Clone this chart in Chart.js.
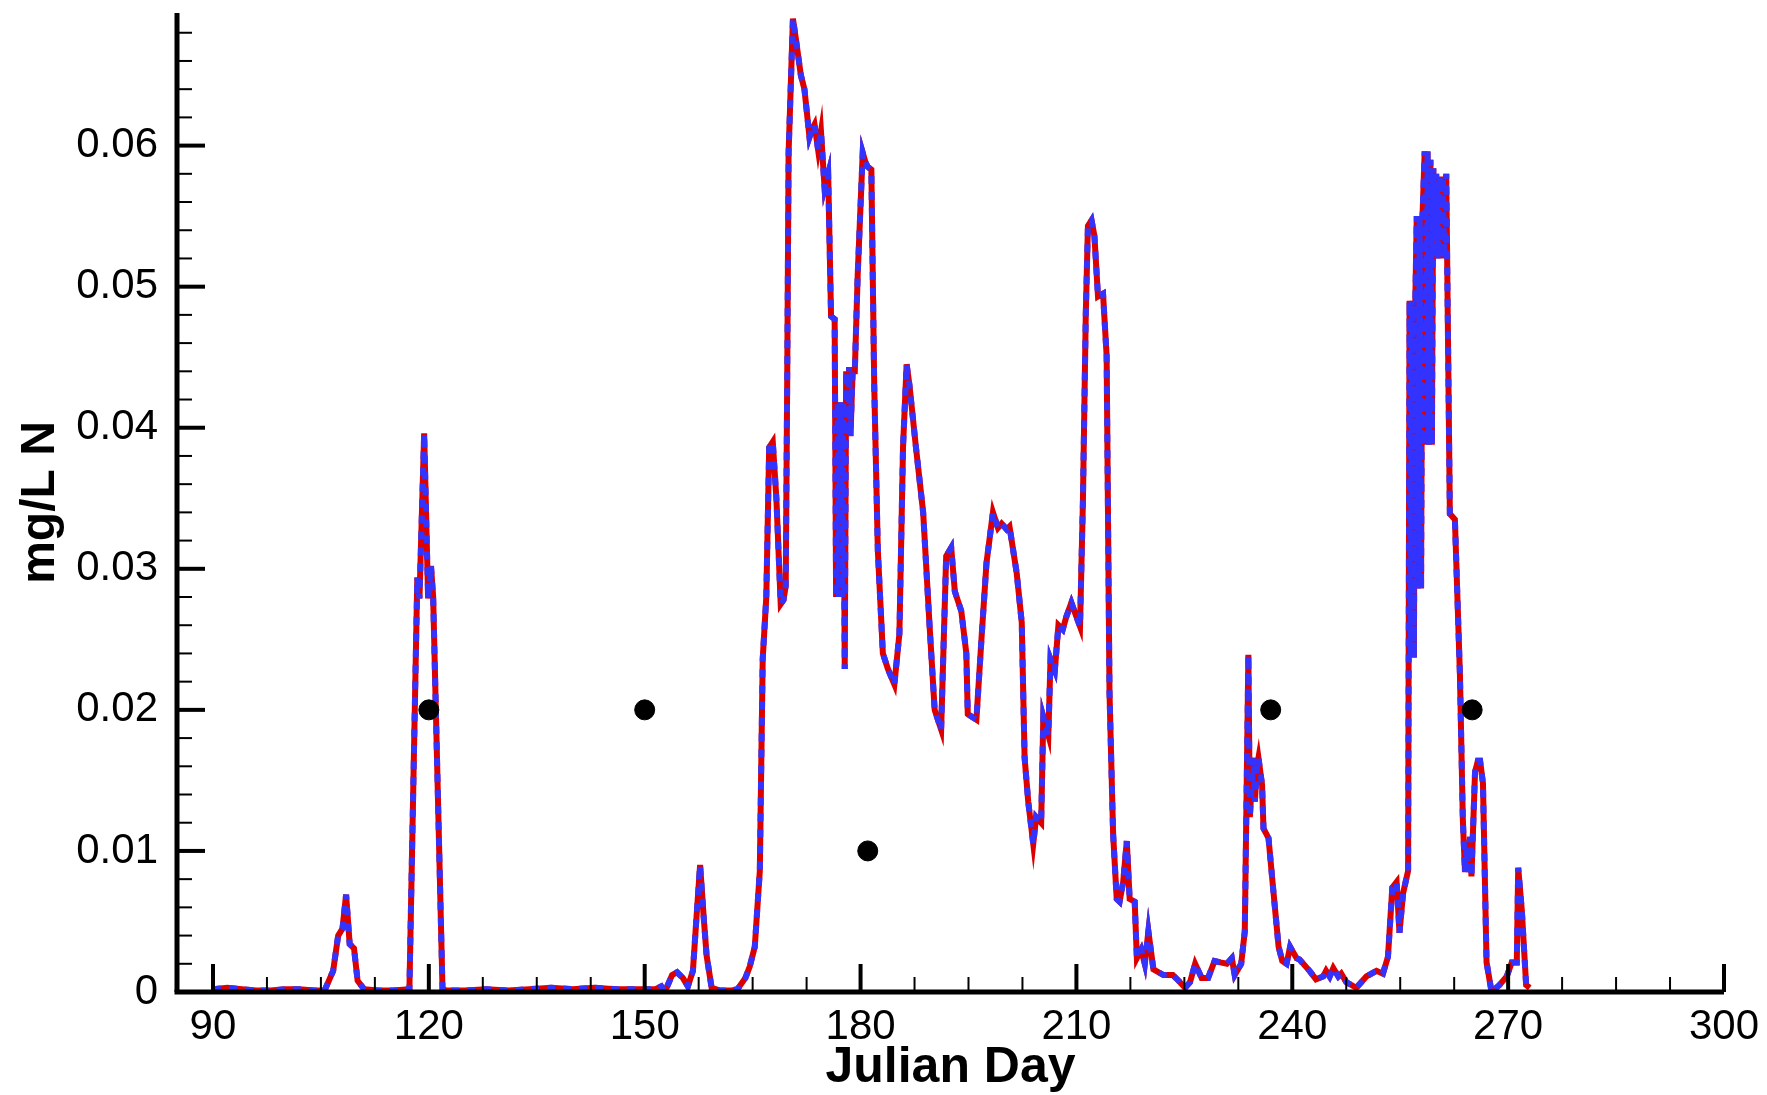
<!DOCTYPE html>
<html>
<head>
<meta charset="utf-8">
<title>mg/L N vs Julian Day</title>
<script src="https://cdn.jsdelivr.net/npm/chart.js@4.4.1/dist/chart.umd.min.js"></script>
<style>
  html, body { margin: 0; padding: 0; background: #fff; }
  canvas { display: block; }
</style>
</head>
<body>
<canvas id="chart" width="1767" height="1095"></canvas>
<script>
// Simulated series (same values drawn twice: red solid + blue dashed)
const days = [
  90, 92, 94, 96, 98, 100, 102, 104, 105.5, 106.7, 107.4, 108, 108.5, 109, 109.6, 110.1, 111, 113, 115,
  117.3, 118.4, 118.7, 119.35, 119.9, 120.3, 120.6, 121.9,
  122.5, 125, 128, 131, 134, 137, 140, 143, 146, 149, 151.5, 152.3, 152.8, 153.8, 154.5, 155.3, 156,
  156.7, 157.2, 157.7, 158.2, 158.6, 159.3, 160.5, 162, 162.9, 164, 164.6, 165.3, 166, 166.4, 166.9,
  167.3, 167.8, 168.3, 168.9, 169.3, 169.6, 169.8, 170, 170.6, 171, 171.7, 172.2, 172.9, 173.3, 173.6,
  174.1, 174.5, 175, 175.5, 175.9, 176.4, 176.6, 176.8, 177, 177.2, 177.4, 177.6, 177.8, 178, 178.2,
  178.4, 178.6, 178.9, 179.2, 179.6, 180.3, 180.7, 181, 181.5, 181.9, 182.4, 183.1, 183.8, 184.7, 185.4,
  185.9, 186.4, 186.8, 187.7, 188.7, 189.6, 190.3, 191.2, 191.9, 192.6, 193.1, 194, 194.7, 194.9, 196.1,
  196.8, 197.5, 198.4, 199.1, 199.6, 200.3, 200.7, 201.7, 202.4, 202.8, 203.3, 204, 204.4, 205.1, 205.4,
  206.1, 206.4, 207, 207.5, 208.1, 208.6, 209.3, 210, 210.5, 210.9, 211.3, 211.6, 212.1, 212.5, 213,
  213.7, 214.2, 214.6, 215.1, 215.6, 216, 216.5, 217, 217.4, 218.1, 218.4, 219, 219.5, 220, 220.7,
  222.1, 223.4, 224.2, 225.1, 225.8, 226.5, 227.4, 228.3, 229.2, 230, 230.9, 231.6, 232, 232.9, 233.4,
  233.9, 234.1, 234.4, 234.6, 234.8, 235.1, 235.3, 235.8, 236, 236.7, 237.4, 238.1, 238.6, 239.2, 239.7,
  240.6, 241, 242.4, 243.3, 244.3, 244.7, 245.2, 245.7, 246.4, 246.8, 247.5, 248.9, 250.3, 251.7, 252.6,
  253.3, 253.9, 254.5, 254.9, 255.4, 256.1, 256.3, 256.5, 256.7, 256.9, 257.1, 257.3, 257.5, 257.7,
  257.9, 258.1, 258.4, 258.6, 258.8, 259, 259.2, 259.4, 259.6, 259.8, 260, 260.2, 260.5, 260.7, 260.9,
  261.1, 261.4, 261.9, 262.6, 263.3, 263.7, 264, 264.2, 264.5, 264.7, 264.9, 265.4, 265.8, 266.1, 266.5,
  267, 267.7, 268.8, 269.8, 270.5, 271.2, 271.4, 271.9, 272.5, 273
];
const nitrogen = [
  0.0002, 0.0003, 0.0002, 0.0001, 0.0001, 0.0002, 0.0002, 0.0001, 0.0001, 0.0015, 0.0040, 0.0045, 0.0069, 0.0034, 0.0031, 0.0008, 0.0002, 0.0001, 0.0001,
  0.0002, 0.0294, 0.0279, 0.0396, 0.0279, 0.0302, 0.0280, 0.0002,
  0.0001, 0.0001, 0.0002, 0.0001, 0.0002, 0.0003, 0.0002, 0.0003, 0.0002, 0.0002, 0.0002, 0.0004, 0.0000, 0.0012, 0.0014, 0.0010, 0.0004,
  0.0015, 0.0053, 0.0090, 0.0053, 0.0026, 0.0003, 0.0001, 0.0001, 0.0002, 0.0010, 0.0018, 0.0032, 0.0086, 0.0236, 0.0280,
  0.0386, 0.0390, 0.0350, 0.0275, 0.0278, 0.0288, 0.0430, 0.0595, 0.0690, 0.0676, 0.0650, 0.0640, 0.0606, 0.0612, 0.0615,
  0.0597, 0.0610, 0.0570, 0.0580, 0.0479, 0.0477, 0.0280, 0.0418, 0.0280, 0.0418, 0.0280, 0.0418, 0.0229, 0.0440, 0.0394,
  0.0443, 0.0394, 0.0440, 0.0440, 0.0508, 0.0595, 0.0588, 0.0585, 0.0583, 0.0430, 0.0313, 0.0240, 0.0229, 0.0218, 0.0254,
  0.0386, 0.0445, 0.0430, 0.0386, 0.0340, 0.0259, 0.0200, 0.0186, 0.0309, 0.0315, 0.0284, 0.0270, 0.0240, 0.0197, 0.0193,
  0.0250, 0.0304, 0.0340, 0.0329, 0.0332, 0.0328, 0.0330, 0.0297, 0.0262, 0.0166, 0.0135, 0.0105, 0.0124, 0.0120, 0.0195,
  0.0182, 0.0236, 0.0228, 0.0260, 0.0257, 0.0266, 0.0276, 0.0266, 0.0259, 0.0347, 0.0480, 0.0543, 0.0547, 0.0536, 0.0493,
  0.0495, 0.0451, 0.0212, 0.0112, 0.0066, 0.0064, 0.0078, 0.0107, 0.0066, 0.0064, 0.0024, 0.0030, 0.0020, 0.0043, 0.0016,
  0.0012, 0.0012, 0.0008, 0.0003, 0.0007, 0.0020, 0.0010, 0.0010, 0.0022, 0.0021, 0.0020, 0.0024, 0.0012, 0.0020, 0.0043,
  0.0239, 0.0124, 0.0150, 0.0166, 0.0135, 0.0160, 0.0166, 0.0147, 0.0116, 0.0109, 0.0070, 0.0032, 0.0022, 0.0020, 0.0032,
  0.0024, 0.0023, 0.0015, 0.0009, 0.0011, 0.0015, 0.0011, 0.0017, 0.0011, 0.0013, 0.0007, 0.0003, 0.0011, 0.0015, 0.0013,
  0.0025, 0.0074, 0.0078, 0.0042, 0.0070, 0.0086, 0.0490, 0.0237, 0.0490, 0.0237, 0.0490, 0.0550, 0.0286, 0.0550,
  0.0286, 0.0550, 0.0596, 0.0388, 0.0596, 0.0388, 0.0590, 0.0388, 0.0584, 0.0520, 0.0580, 0.0520, 0.0578, 0.0520, 0.0578,
  0.0520, 0.0580, 0.0339, 0.0335, 0.0225, 0.0123, 0.0085, 0.0103, 0.0085, 0.0110, 0.0082, 0.0156, 0.0164, 0.0164, 0.0148,
  0.0021, 0.0000, 0.0005, 0.0011, 0.0021, 0.0021, 0.0088, 0.0058, 0.0005, 0.0003
];

// Observed samples (black dots)
const obsDays = [120, 150, 181, 237, 265];
const obsValues = [0.02, 0.02, 0.01, 0.02, 0.02];

// Axis ticks
const xMajorTicks = [90, 120, 150, 180, 210, 240, 270, 300];
const xMinorStep = 7.5;
const yMajorTicks = [0, 0.01, 0.02, 0.03, 0.04, 0.05, 0.06];
const yMinorStep = 0.002;

const series = days.map((d, i) => ({ x: d, y: nitrogen[i] }));
const observed = obsDays.map((d, i) => ({ x: d, y: obsValues[i] }));

const FONT = "'Liberation Sans', Arial, Helvetica, sans-serif";

// Draw axis lines and inward tick marks (Tecplot style)
const axisTicks = {
  id: 'axisTicks',
  afterDatasetsDraw(chart) {
    const { ctx, chartArea: a, scales: { x, y } } = chart;
    ctx.save();
    ctx.strokeStyle = '#000';
    ctx.lineCap = 'butt';

    // minor x ticks
    ctx.lineWidth = 2;
    for (let v = xMajorTicks[0]; v <= x.max + 1e-9; v += xMinorStep) {
      if (xMajorTicks.includes(v)) continue;
      const px = x.getPixelForValue(v);
      ctx.beginPath(); ctx.moveTo(px, a.bottom); ctx.lineTo(px, a.bottom - 15); ctx.stroke();
    }
    // minor y ticks
    for (let v = yMinorStep; v <= y.max + 1e-9; v += yMinorStep) {
      if (yMajorTicks.some(t => Math.abs(t - v) < 1e-9)) continue;
      const py = y.getPixelForValue(v);
      ctx.beginPath(); ctx.moveTo(a.left, py); ctx.lineTo(a.left + 15, py); ctx.stroke();
    }

    // major ticks
    ctx.lineWidth = 4;
    xMajorTicks.forEach(v => {
      const px = x.getPixelForValue(v);
      ctx.beginPath(); ctx.moveTo(px, a.bottom); ctx.lineTo(px, a.bottom - 28); ctx.stroke();
    });
    yMajorTicks.forEach(v => {
      const py = y.getPixelForValue(v);
      ctx.beginPath(); ctx.moveTo(a.left, py); ctx.lineTo(a.left + 28, py); ctx.stroke();
    });

    // axis lines
    ctx.lineWidth = 5;
    ctx.beginPath(); ctx.moveTo(a.left - 2.5, a.bottom); ctx.lineTo(a.right, a.bottom); ctx.stroke();
    ctx.beginPath(); ctx.moveTo(a.left, a.top); ctx.lineTo(a.left, a.bottom); ctx.stroke();
    ctx.restore();
  }
};

new Chart(document.getElementById('chart').getContext('2d'), {
  type: 'line',
  data: {
    datasets: [
      {
        type: 'scatter',
        data: observed,
        backgroundColor: '#000',
        borderColor: '#000',
        pointRadius: 10,
        showLine: false,
        order: 0
      },
      {
        data: series,
        borderColor: '#3333ff',
        borderWidth: 6,
        borderDash: [8, 8],
        pointRadius: 0,
        tension: 0,
        fill: false,
        order: 1
      },
      {
        data: series,
        borderColor: '#dd0000',
        borderWidth: 6,
        pointRadius: 0,
        tension: 0,
        fill: false,
        order: 2
      }
    ]
  },
  options: {
    responsive: false,
    devicePixelRatio: 1,
    animation: false,
    layout: { padding: { top: 13, right: 43, left: 0, bottom: 0 } },
    plugins: { legend: { display: false }, tooltip: { enabled: false } },
    scales: {
      x: {
        type: 'linear',
        min: 85,
        max: 300,
        grid: { display: false, drawTicks: false },
        border: { display: false },
        afterBuildTicks: s => { s.ticks = xMajorTicks.map(v => ({ value: v })); },
        afterFit: s => { s.height = 103; s.paddingLeft = 0; s.paddingRight = 0; },
        ticks: {
          color: '#000',
          padding: 10,
          maxRotation: 0,
          font: { family: FONT, size: 42 }
        },
        title: {
          display: true,
          text: 'Julian Day',
          color: '#000',
          padding: { top: 0, bottom: -3 },
          font: { family: FONT, size: 50, weight: 'bold' }
        }
      },
      y: {
        type: 'linear',
        min: 0,
        max: 0.0694,
        grid: { display: false, drawTicks: false },
        border: { display: false },
        afterBuildTicks: s => { s.ticks = yMajorTicks.map(v => ({ value: v })); },
        afterFit: s => { s.width = 177; s.paddingTop = 0; s.paddingBottom = 0; },
        ticks: {
          color: '#000',
          padding: 19,
          font: { family: FONT, size: 42 },
          callback: v => (v === 0 ? '0' : v.toFixed(2))
        },
        title: {
          display: true,
          text: 'mg/L N',
          color: '#000',
          padding: { top: 12, bottom: 0 },
          font: { family: FONT, size: 48, weight: 'bold' }
        }
      }
    }
  },
  plugins: [axisTicks]
});
</script>
</body>
</html>
